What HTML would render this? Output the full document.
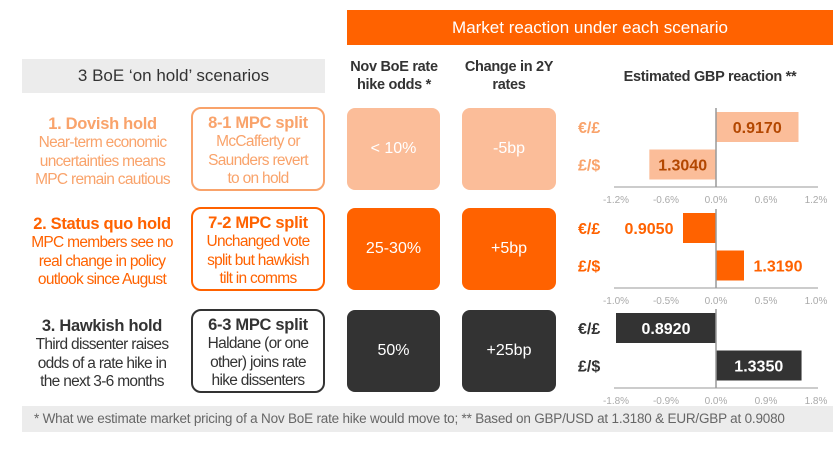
<!DOCTYPE html>
<html><head><meta charset="utf-8"><style>
body{margin:0;width:839px;height:449px;background:#fff;font-family:"Liberation Sans",sans-serif;position:relative;overflow:hidden}
.a{position:absolute;box-sizing:border-box}
.c{text-align:center}
.t{font-weight:bold;font-size:16.5px;line-height:20px;letter-spacing:-0.3px}
.b{font-size:15.5px;line-height:18.5px;letter-spacing:-0.7px}
.box{display:flex;align-items:center;justify-content:center;font-size:16px;border-radius:8px}
.mpc{border:2px solid;border-radius:10px;text-align:center;padding-top:4px}
</style></head><body>
<div class="a c" style="left:347px;top:10px;width:486px;height:35px;background:#ff6200;color:#fff;font-size:17px;line-height:35px">Market reaction under each scenario</div>
<div class="a c" style="left:22px;top:59px;width:303px;height:34px;background:#ececec;color:#333;font-size:17px;line-height:34px">3 BoE ‘on hold’ scenarios</div>
<div class="a c t" style="left:340px;top:58px;width:108px;color:#333;font-size:14.5px;line-height:18px">Nov BoE rate hike odds *</div>
<div class="a c t" style="left:455px;top:58px;width:108px;color:#333;font-size:14.5px;line-height:18px">Change in 2Y rates</div>
<div class="a c t" style="left:590px;top:67px;width:240px;color:#333;font-size:14.5px">Estimated GBP reaction **</div>

<div class="a c" style="left:10px;top:114px;width:185px;color:#f9a36b"><div class="t">1. Dovish hold</div><div class="b">Near-term economic<br>uncertainties means<br>MPC remain cautious</div></div>
<div class="a mpc" style="left:191px;top:107px;width:134px;height:84px;border-color:#f9a36b;color:#f9a36b"><div class="t">8-1 MPC split</div><div class="b">McCafferty or<br>Saunders revert<br>to on hold</div></div>
<div class="a box" style="left:347px;top:108px;width:93px;height:82px;background:#fbbd99;color:#fff">&lt; 10%</div>
<div class="a box" style="left:462px;top:108px;width:94px;height:82px;background:#fbbd99;color:#fff">-5bp</div>

<div class="a c" style="left:8px;top:214px;width:188px;color:#ff6200"><div class="t">2. Status quo hold</div><div class="b">MPC members see no<br>real change in policy<br>outlook since August</div></div>
<div class="a mpc" style="left:191px;top:207px;width:134px;height:84px;border-color:#ff6200;color:#ff6200"><div class="t">7-2 MPC split</div><div class="b">Unchanged vote<br>split but hawkish<br>tilt in comms</div></div>
<div class="a box" style="left:347px;top:208px;width:93px;height:82px;background:#ff6200;color:#fff">25-30%</div>
<div class="a box" style="left:462px;top:208px;width:94px;height:82px;background:#ff6200;color:#fff">+5bp</div>

<div class="a c" style="left:8px;top:316px;width:188px;color:#333"><div class="t">3. Hawkish hold</div><div class="b">Third dissenter raises<br>odds of a rate hike in<br>the next 3-6 months</div></div>
<div class="a mpc" style="left:191px;top:309px;width:134px;height:84px;border-color:#333;color:#333"><div class="t">6-3 MPC split</div><div class="b">Haldane (or one<br>other) joins rate<br>hike dissenters</div></div>
<div class="a box" style="left:347px;top:310px;width:93px;height:82px;background:#333;color:#fff">50%</div>
<div class="a box" style="left:462px;top:310px;width:94px;height:82px;background:#333;color:#fff">+25bp</div>

<div class="a" style="left:22px;top:406px;width:811px;height:26px;background:#ececec;color:#666;font-size:13.5px;line-height:26px;padding-left:12px;letter-spacing:-0.2px">* What we estimate market pricing of a Nov BoE rate hike would move to; ** Based on GBP/USD at 1.3180 &amp; EUR/GBP at 0.9080</div>

<svg id="ch" class="a" style="left:0;top:0" width="839" height="449"></svg>
<script>
const pairs=["€/£","£/$"];
const labels1=["0.9170","1.3040"], values1=[0.99,-0.80];
const labels2=["0.9050","1.3190"], values2=[-0.33,0.28];
const labels3=["0.8920","1.3350"], values3=[-1.80,1.54];
const ticks1=["-1.2%","-0.6%","0.0%","0.6%","1.2%"], max1=1.2;
const ticks2=["-1.0%","-0.5%","0.0%","0.5%","1.0%"], max2=1.0;
const ticks3=["-1.8%","-0.9%","0.0%","0.9%","1.8%"], max3=1.8;
const svg=document.getElementById('ch');const NS="http://www.w3.org/2000/svg";
function mk(t,a){const e=document.createElementNS(NS,t);for(const k in a)e.setAttribute(k,a[k]);svg.appendChild(e);return e;}
const X0=616,X1=816;
function draw(top,vals,labs,ticks,max,fill,catCol,labCol,inside,idx){
  const x=v=>X0+(v+max)/(2*max)*(X1-X0);
  const axisY=top+75;
  vals.forEach((v,i)=>{
    const y=top+i*37.5;
    const r=mk('rect',{x:Math.min(x(0),x(v)),y:y,width:Math.abs(x(v)-x(0)),height:30,fill:fill});
    
    
    const c=mk('text',{x:578,y:y+21,fill:catCol,'font-size':16,'font-weight':'bold'});c.textContent=pairs[i];
    
    
    let lx;
    if(inside){lx=(x(0)+x(v))/2;}else{lx=v<0?x(v)-34:x(v)+34;}
    const t=mk('text',{x:lx,y:y+21,fill:labCol,'font-size':16,'font-weight':'bold','text-anchor':'middle'});t.textContent=labs[i];
    
    
  });
  mk('line',{x1:X0-2,x2:X1+2,y1:axisY,y2:axisY,stroke:'#bbb','stroke-width':1.5});
  mk('line',{x1:x(0),x2:x(0),y1:top-4,y2:axisY,stroke:'#999','stroke-width':1.5});
  ticks.forEach((tk,i)=>{const tv=-max+i*max/2;const t=mk('text',{x:x(tv),y:axisY+16,fill:'#aaa','font-size':10,'text-anchor':'middle'});t.textContent=tk;
    
    });
}
draw(112,values1,labels1,ticks1,max1,'#fbbd99','#f9a36b','#b34700',true,1);
draw(213,values2,labels2,ticks2,max2,'#ff6200','#ff6200','#ff6200',false,2);
draw(313,values3,labels3,ticks3,max3,'#333','#333','#fff',true,3);
</script>
</body></html>
